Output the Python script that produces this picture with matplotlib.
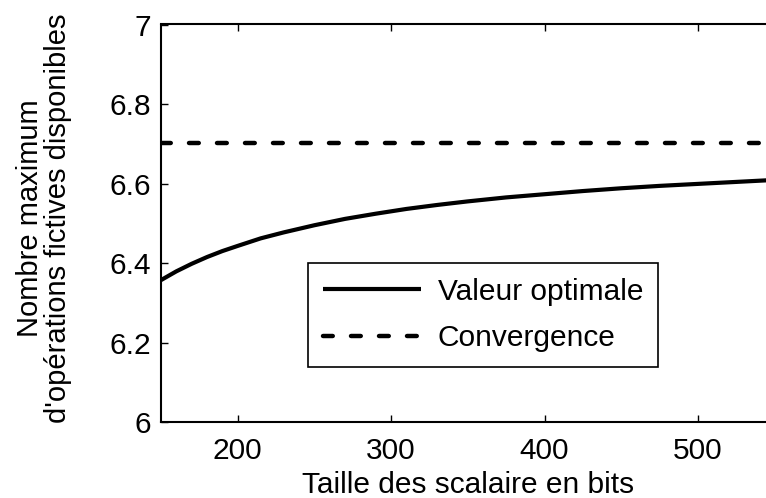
import matplotlib
matplotlib.use("Agg")
import matplotlib.pyplot as plt

plt.rcParams['font.family'] = ['Liberation Sans', 'DejaVu Sans']

# Scalar size (bits) and maximum number of available dummy operations
taille_bits = [150, 160, 170, 180, 190, 200, 215, 230, 250, 270, 290, 310,
               330, 350, 375, 400, 425, 450, 475, 500, 525, 550]
valeur_optimale = [6.357, 6.379, 6.398, 6.415, 6.430, 6.443, 6.462, 6.477,
                   6.495, 6.511, 6.524, 6.536, 6.546, 6.555, 6.565, 6.573,
                   6.581, 6.588, 6.594, 6.599, 6.604, 6.609]
convergence = 6.703

xticks = [200, 300, 400, 500]
yticks = [6, 6.2, 6.4, 6.6, 6.8, 7]
ytick_labels = ['6', '6.2', '6.4', '6.6', '6.8', '7']

FS = 21.5

fig = plt.figure(figsize=(7.66, 4.98), dpi=100)
ax = fig.add_axes([161 / 766, 76 / 498, 613.6 / 766, 397.5 / 498])

ax.plot(taille_bits, valeur_optimale, color='black', lw=3,
        solid_capstyle='butt', solid_joinstyle='round',
        label='Valeur optimale')
ax.plot([taille_bits[0], taille_bits[-1]], [convergence, convergence],
        color='black', lw=3.2, dashes=(2.2, 4.1), dash_capstyle='round',
        label='Convergence')

ax.set_xlim(150, 550)
ax.set_ylim(6, 7)
ax.set_xticks(xticks)
ax.set_yticks(yticks)
ax.set_yticklabels(ytick_labels)
ax.tick_params(direction='in', length=5, width=1, labelsize=FS,
               top=True, right=True)
ax.tick_params(axis='x', pad=11)
ax.tick_params(axis='y', pad=7)
for s in ax.spines.values():
    s.set_linewidth(1.5)

ax.set_xlabel('Taille des scalaire en bits', fontsize=FS, labelpad=4)
ax.text(-0.191, 0.513, "Nombre maximum\nd'opérations fictives disponibles",
        transform=ax.transAxes, rotation=90, ha='center', va='center',
        multialignment='center', fontsize=21, linespacing=1.02)

leg = ax.legend(loc='upper left', bbox_to_anchor=(308 / 766, 1 - 263 / 498),
                bbox_transform=fig.transFigure, borderaxespad=0,
                fontsize=FS, handlelength=3.3, handletextpad=0.55,
                borderpad=0.5, labelspacing=0.62, fancybox=False,
                framealpha=1)
leg.get_frame().set_edgecolor('black')
leg.get_frame().set_linewidth(1.2)

fig.savefig('out.png', dpi=100)
